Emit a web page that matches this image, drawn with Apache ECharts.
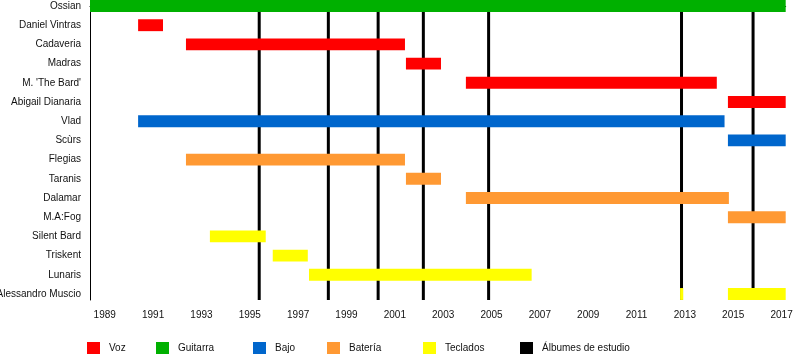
<!DOCTYPE html>
<html>
<head>
<meta charset="utf-8">
<script src="https://cdn.jsdelivr.net/npm/echarts@6/dist/echarts.min.js"></script>
<style>html,body{margin:0;padding:0;background:#fff}#c{width:800px;height:360px}</style>
</head>
<body>
<div id="c"></div>
<script>
const members = ['Ossian','Daniel Vintras','Cadaveria','Madras',"M. 'The Bard'",'Abigail Dianaria','Vlad','Scùrs','Flegias','Taranis','Dalamar','M.A:Fog','Silent Bard','Triskent','Lunaris','Alessandro Muscio'];
const tickYears = [1989,1990,1991,1992,1993,1994,1995,1996,1997,1998,1999,2000,2001,2002,2003,2004,2005,2006,2007,2008,2009,2010,2011,2012,2013,2014,2015,2016,2017];
const labelYears = [1989,1991,1993,1995,1997,1999,2001,2003,2005,2007,2009,2011,2013,2015,2017];
const startYear = 1988.39;
const endYear = 2017.17;

// [row, start, end]
const voz = [[1,1990.38,1991.41],[2,1992.36,2001.42],[3,2001.46,2002.91],[4,2003.94,2014.32],[5,2014.78,2017.17]];
const guitarra = [[0,1988.39,2017.17]];
const bajo = [[6,1990.38,2014.64],[7,2014.78,2017.17]];
const bateria = [[8,1992.36,2001.42],[9,2001.46,2002.91],[10,2003.94,2014.82],[11,2014.78,2017.17]];
const teclados = [[12,1993.35,1995.66],[13,1995.95,1997.40],[14,1997.45,2006.66],[15,2012.80,2012.93],[15,2014.78,2017.17]];
const albumes = [1995.39,1998.25,2000.31,2002.18,2004.88,2012.86,2015.82];

const names = ['Voz','Guitarra','Bajo','Batería','Teclados','Álbumes de estudio'];
const colors = ['#FF0000','#00B000','#0066CC','#FF9933','#FFFF00','#000000'];
const legendLeft = [87,156,253,327,423,520];

const yMin = -0.3125, yMax = 15.3125;
const font = "'Liberation Sans', Arial, sans-serif";

function barRender(params, api) {
  const row = api.value(0);
  const p0 = api.coord([api.value(1), row]);
  const p1 = api.coord([api.value(2), row]);
  const h = api.size([0, 1])[1] * 0.62;
  return {
    type: 'rect',
    shape: { x: p0[0], y: p0[1] - h / 2, width: p1[0] - p0[0], height: h },
    style: { fill: api.visual('color') }
  };
}
function lineRender(params, api) {
  const x = api.value(0);
  const a = api.coord([x, yMin]);
  const b = api.coord([x, yMax]);
  return {
    type: 'line',
    shape: { x1: a[0], y1: a[1], x2: b[0], y2: b[1] },
    style: { stroke: '#000', lineWidth: 3 }
  };
}
function barSeries(name, color, data) {
  return { name, type: 'custom', renderItem: barRender, itemStyle: { color },
    encode: { x: [1, 2], y: 0 }, data, z: 3, clip: false };
}

const chart = echarts.init(document.getElementById('c'), null, { renderer: 'canvas' });
chart.setOption({
  animation: false,
  backgroundColor: '#fff',
  textStyle: { fontFamily: font },
  grid: { left: 90, right: 14.3, top: 0, height: 300, containLabel: false, outerBoundsMode: 'none' },
  xAxis: {
    type: 'value', min: startYear, max: endYear,
    axisLine: { show: true, lineStyle: { color: '#000', width: 1 } },
    axisTick: { show: true, customValues: tickYears, length: 5, lineStyle: { color: '#000' } },
    axisLabel: { customValues: labelYears, formatter: v => String(v), fontSize: 10, color: '#111', margin: 10, fontFamily: font },
    splitLine: { show: false }
  },
  yAxis: {
    type: 'value', inverse: true, min: yMin, max: yMax,
    axisLine: { show: true, lineStyle: { color: '#000', width: 1 } },
    axisTick: { show: false },
    axisLabel: { customValues: members.map((m, i) => i), formatter: v => members[v], fontSize: 10, color: '#111', margin: 9, fontFamily: font, padding: [3, 0, 0, 0] },
    splitLine: { show: false }
  },
  legend: names.map((n, i) => ({
    data: [n], left: legendLeft[i], top: 342, padding: 0, itemWidth: 13, itemHeight: 12,
    icon: 'rect', selectedMode: false,
    textStyle: { fontSize: 10, color: '#111', fontFamily: font, padding: [0, 0, 0, 4] }
  })),
  series: [
    { name: 'Álbumes de estudio', type: 'custom', renderItem: lineRender, itemStyle: { color: '#000' },
      encode: { x: 0, y: 1 }, data: albumes.map(a => [a, 0]), z: 1, clip: false },
    barSeries('Voz', colors[0], voz),
    barSeries('Guitarra', colors[1], guitarra),
    barSeries('Bajo', colors[2], bajo),
    barSeries('Batería', colors[3], bateria),
    barSeries('Teclados', colors[4], teclados)
  ]
});
</script>
</body>
</html>
